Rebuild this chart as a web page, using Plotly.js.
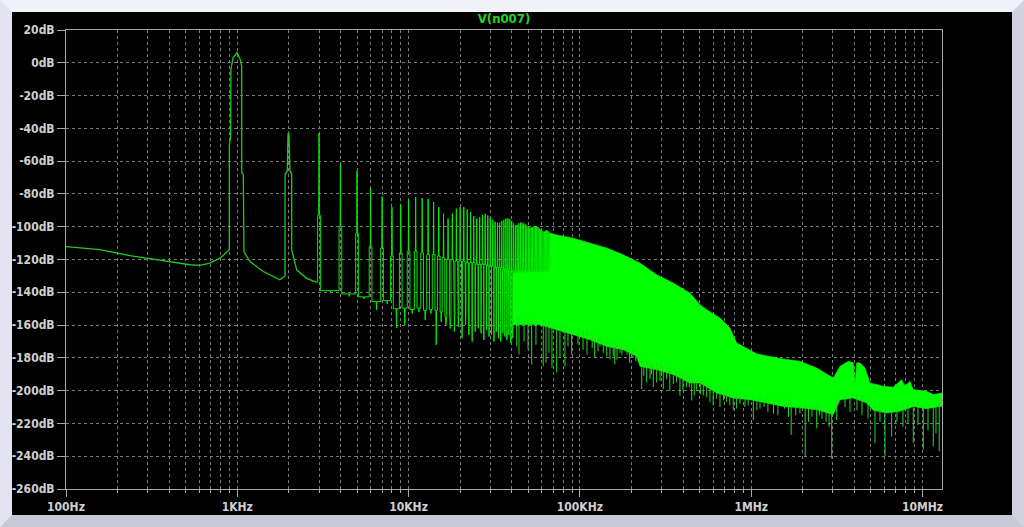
<!DOCTYPE html>
<html><head><meta charset="utf-8">
<script src="https://cdn.plot.ly/plotly-3.0.1.min.js"></script>
<style>
html,body{margin:0;padding:0;background:#c8c8d6;}
#wrap{width:1000px;height:503px;border-style:solid;border-width:12px;
border-top-color:#f1f1fa;border-left-color:#e4e4f0;border-right-color:#d2d2de;border-bottom-color:#c8c8d6;background:#000;}
#chart{width:1000px;height:503px;}
</style></head>
<body><div id="wrap"><div id="chart"></div></div>
<script>
// ---- data ----
const fundHz = 1000;
// low-frequency curve including the 1 kHz and 2 kHz peaks
const lfF  = [100,158,236,309,405,530,606,693,793,886,898,899,915,918,945,997,1040,1061,1062,1084,1086,
              1094,1186,1419,1774,1880,1899,1900,1958,1975,1990,2005,2031,2078,2079,2222,2541,2908];
const lfDb = [-112.2,-114,-117.7,-119.6,-121.4,-123.2,-123.6,-122.2,-119.2,-114,-114,-50,-45,-4,3,6.2,2,-2,-67,-68,-115,
              -115.3,-121.2,-127.3,-132.4,-130.3,-130,-68,-66,-45,-42,-45,-66,-68,-114,-126.3,-131.5,-134];
// harmonics 3..66 of 1 kHz
const harmN = [3,4,5,6,7,8,9,10,11,12,13,14,15,16,17,18,19,20,21,22,23,24,25,26,27,28,29,30,31,32,33,34,
               35,36,37,38,39,40,41,42,43,44,45,46,47,48,49,50,51,52,53,54,55,56,57,58,59,60,61,62,63,64,65,66];
const harmPeak = [-43,-62,-66,-76.5,-81.5,-88,-86.5,-83.5,-82,-82.5,
                  -83,-85,-88,-92,-95,-92,-89,-88,-88,-89.5,
                  -91,-93.5,-95,-94,-92.7,-92.3,-93.2,-94.4,-95.8,-97,
                  -97.6,-97.5,-96.5,-96,-95,-95,-95.5,-96.5,-98,-99,
                  -99,-98,-97.5,-97.6,-98,-98.5,-99.3,-100,-100.5,-100.5,
                  -100.2,-99.8,-99.6,-99.8,-100.3,-101,-101.8,-102.5,-103,-103,
                  -102.5,-102.2,-102.5,-103];
const harmShoulder = [-93,-100,-104,-112,-113,-118,-116,-115,-115,-116,
                      -117,-117,-118,-119,-120,-120,-121,-121,-121,-122,
                      -122,-122,-123,-123,-123,-123,-124,-124,-124,-125,
                      -125,-125,-125,-126,-126,-126,-126,-127,-127,-127,
                      -127,-127,-127,-127,-127,-127,-127,-127,-127,-127,
                      -127,-127,-127,-127,-127,-127,-127,-127,-127,-127,
                      -127,-127,-127,-127];
const harmFloor = [-139,-141,-142.8,-145.6,-145,-150,-149.6,-150.5,-149.6,-151,
                   -150.5,-151,-152,-154.7,-155,-154,-155,-155,-154,-156,
                   -156,-157,-156,-157,-158,-157,-158,-158,-158,-159,
                   -158,-159,-159,-160,-159,-160,-160,-160,-140,-140,
                   -140,-140,-140,-140,-140,-140,-140,-140,-140,-140,
                   -140,-140,-140,-140,-140,-140,-140,-140,-140,-140,
                   -140,-140,-140,-140];
const harmDip = [-140,-142.5,-144,-150.6,-147,-161.6,-159.8,-153,-152,-157,
                 -153,-172,-158,-160,-162,-164,-161,-168,-160,-166,
                 -170,-164,-162,-165,-169,-163,-167,-166,-170,-164,
                 -168,-170,-165,-167,-169,-166,-171,-168,-140,-140,
                 -140,-140,-140,-140,-140,-140,-140,-140,-140,-140,
                 -140,-140,-140,-140,-140,-140,-140,-140,-140,-140,
                 -140,-140,-140,-140];
// dense band: upper and lower edges
const topF  = [40.7e3,43.5e3,58.5e3,66.0e3,66.9e3,73.2e3,91.5e3,114.5e3,143.4e3,179.2e3,
               224.3e3,280.7e3,351.1e3,439.2e3,502.5e3,549.9e3,657.5e3,752e3,823e3,899e3,
               1.076e6,1.126e6,1.539e6,1.926e6,2.412e6,3.015e6,3.299e6,3.688e6,3.945e6,4.036e6,
               4.13e6,4.316e6,4.617e6,4.937e6,5.903e6,6.753e6,7.559e6,7.902e6,8.453e6,8.838e6,
               10.58e6,11.56e6,12.65e6,13.0e6];
const topDb = [-128.3,-128,-127.8,-127.5,-103.9,-105,-107,-110,-113,-117.1,
               -122.2,-129.3,-134.4,-140.5,-147.6,-150.6,-155.7,-161.8,-170.9,-173,
               -177.5,-178,-180.7,-182.1,-186.2,-192.3,-185.2,-182.1,-183,-196,
               -183,-183.1,-186,-195.3,-197.3,-197.9,-193.3,-197.3,-194.3,-199.4,
               -200.4,-202.4,-201.4,-201.5];
const botF  = [40.7e3,58.5e3,73.2e3,91.5e3,114.5e3,143.4e3,179.2e3,214.6e3,224.3e3,280.7e3,
               351.1e3,439.2e3,502.5e3,629e3,786e3,984e3,1.231e6,1.539e6,1.926e6,2.412e6,
               3.015e6,3.299e6,3.945e6,4.723e6,5.161e6,6.180e6,7.389e6,8.838e6,10.58e6,12.65e6,13.0e6];
const botDb = [-159.8,-159.8,-162.8,-165.9,-168.9,-173,-175,-179,-185.2,-187.2,
               -190.2,-195.3,-195.3,-201.4,-204.5,-205.5,-207.5,-209.6,-210.5,-211.6,
               -214.6,-205.5,-204.5,-207.5,-212,-213.6,-212.6,-209.6,-211,-209.6,-209.6];
// downward spikes below the band
const dipF = [42.8e3,44.1e3,47.2e3,49.8e3,52.3e3,55.4e3,61.1e3,63.4e3,66e3,68.7e3,
              73.2e3,76.5e3,81.8e3,85.2e3,89.5e3,97.5e3,104.3e3,127.6e3,131e3,143.4e3,
              149.8e3,156.7e3,164.7e3,171.5e3,188.4e3,204.2e3,229.5e3,245.5e3,256.7e3,268.4e3,
              280.7e3,293.5e3,306.8e3,321.2e3,351.1e3,383.6e3,420.1e3,449.5e3,480.6e3,525.3e3,
              574.6e3,629e3,657.5e3,719.5e3,786e3,860.4e3,919.9e3,1.029e6,1.126e6,1.252e6,
              1.432e6,1.567e6,1.712e6,1.926e6,2.068e6,2.264e6,2.412e6,2.591e6,2.734e6,2.951e6,
              3.157e6,3.529e6,3.774e6,4.147e6,4.435e6,4.808e6,5.28e6,5.648e6,6.04e6,6.61e6,
              7.1e6,7.69e6,8.23e6,8.838e6,9.41e6,10.11e6,10.77e6,11.56e6,11.99e6,12.53e6,
              110e3,118e3,122e3,137e3,160e3,176e3,195e3,212e3,236e3,262e3,
              300e3,335e3,366e3,400e3,435e3,465e3,505e3,550e3,600e3,690e3,
              750e3,820e3,960e3,1.08e6,1.19e6,1.35e6,1.65e6,1.82e6,2.16e6,2.5e6,2.85e6];
const dipTop = [-155,-155,-156,-156,-156,-157,-157,-157,-158,-158,
                -159,-159,-160,-160,-161,-162,-163,-167,-167,-169,
                -169,-170,-171,-171,-173,-174,-181,-182,-182,-183,
                -183,-184,-185,-185,-186,-187,-189,-190,-191,-193,
                -195,-197,-197,-199,-200,-201,-201,-202,-203,-204,
                -205,-205,-206,-207,-207,-208,-208,-209,-210,-211,
                -205,-202,-202,-202,-203,-205,-208,-209,-210,-210,
                -209,-209,-208,-207,-207,-208,-208,-208,-207,-207,
                -164,-166,-167,-169,-171,-172,-174,-176,-182,-183,
                -185,-186,-188,-189,-191,-192,-194,-196,-198,-200,
                -201,-202,-203,-204,-205,-206,-207,-208,-209,-209,-211];
const dipBot = [-173,-178,-170,-175,-184,-172,-185,-183,-177,-186,
                -189,-180,-185,-173,-178,-172,-175,-176,-173,-179,
                -181,-179,-181,-177,-178,-180,-199,-195,-193,-198,
                -195,-194,-199,-193,-196,-203,-198,-206,-200,-203,
                -207,-205,-210,-207,-212,-208,-210,-218,-211,-213,
                -215,-211,-227,-214,-240,-216,-223,-217,-219,-241.6,
                -218,-210,-213,-212,-215,-217,-232,-219,-240,-228,
                -219,-222,-220,-232,-221,-236,-224,-234,-226,-237,
                -178,-174,-180,-177,-184,-178,-183,-182,-191,-190,
                -191,-200,-195,-200,-198,-203,-202,-204,-209,-206,
                -209,-211,-209,-212,-210,-214,-216,-215,-219,-215,-222];
// axis ticks
const xTickVals = [1e2,1e3,1e4,1e5,1e6,1e7];
const xTickText = ['100Hz','1KHz','10KHz','100KHz','1MHz','10MHz'];
const xMinorVals = [2e2,3e2,4e2,5e2,6e2,7e2,8e2,9e2,2e3,3e3,4e3,5e3,6e3,7e3,8e3,9e3,
                    2e4,3e4,4e4,5e4,6e4,7e4,8e4,9e4,2e5,3e5,4e5,5e5,6e5,7e5,8e5,9e5,
                    2e6,3e6,4e6,5e6,6e6,7e6,8e6,9e6];
const yTickVals = [20,0,-20,-40,-60,-80,-100,-120,-140,-160,-180,-200,-220,-240,-260];
const yTickText = ['20dB','0dB','-20dB','-40dB','-60dB','-80dB','-100dB','-120dB','-140dB','-160dB','-180dB','-200dB','-220dB','-240dB','-260dB'];

// ---- build traces ----
const W = 0.018, w = 0.004, dw = 0.004;
const hx = [], hy = [];
let prevFloor = lfDb[lfDb.length-1];
harmN.forEach((n,i)=>{
  const f = n*fundHz;
  hx.push(f*(1-W), f*(1-W), f*(1-w), f, f*(1+w), f*(1+W), f*(1+W));
  hy.push(prevFloor, harmShoulder[i], harmShoulder[i], harmPeak[i], harmShoulder[i], harmShoulder[i], harmFloor[i]);
  const m = f + fundHz/2;
  hx.push(m*(1-dw), m, m*(1+dw));
  hy.push(harmFloor[i], harmDip[i], harmFloor[i]);
  prevFloor = harmFloor[i];
});
const bandX = topF.concat(botF.slice().reverse());
const bandY = topDb.concat(botDb.slice().reverse());
const dx = [], dy = [];
dipF.forEach((f,i)=>{ dx.push(f,f,null); dy.push(dipTop[i],dipBot[i],null); });

const green = '#00ff00';
const traces = [
  {x:hx, y:hy, mode:'lines', line:{color:'#00ee00', width:1}, hoverinfo:'skip'},
  {x:bandX, y:bandY, mode:'lines', fill:'toself', fillcolor:green, line:{color:green, width:0.6}, hoverinfo:'skip'},
  {x:dx, y:dy, mode:'lines', line:{color:'#1edc1e', width:1}, hoverinfo:'skip'},
  {x:lfF, y:lfDb, mode:'lines', line:{color:'#22c822', width:1.3}, hoverinfo:'skip'}
];
const axCol = '#a8a8a8', gridCol = '#7c7c7c';
const tickFont = {family:'DejaVu Sans Condensed, DejaVu Sans, sans-serif', size:12, color:'#d0d0d0', weight:'bold'};
const layout = {
  width:1000, height:503,
  margin:{l:54, r:70, t:18, b:26},
  paper_bgcolor:'#000', plot_bgcolor:'#000',
  showlegend:false,
  title:{text:'V(n007)', x:0.5, xref:'paper', y:1, yref:'container', yanchor:'top', pad:{t:2},
         font:{family:'DejaVu Sans Condensed, DejaVu Sans, sans-serif', size:13, color:'#22d822', weight:'bold'}},
  xaxis:{type:'log', range:[2, Math.log10(13.0e6)], tickmode:'array', tickvals:xTickVals, ticktext:xTickText,
         ticks:'outside', ticklen:7, tickcolor:axCol, showline:true, linecolor:axCol, mirror:true,
         showgrid:true, gridcolor:gridCol, griddash:'3px,3px', gridwidth:1, zeroline:false, tickfont:tickFont,
         minor:{tickmode:'array', tickvals:xMinorVals, ticks:'outside', ticklen:3, tickcolor:axCol,
                showgrid:true, gridcolor:gridCol, griddash:'3px,3px', gridwidth:1}},
  yaxis:{range:[-260,20], tickmode:'array', tickvals:yTickVals, ticktext:yTickText,
         ticks:'outside', ticklen:8, tickcolor:axCol, showline:true, linecolor:axCol, mirror:true,
         showgrid:true, gridcolor:gridCol, griddash:'3px,3px', gridwidth:1, zeroline:false, tickfont:tickFont}
};
Plotly.newPlot('chart', traces, layout, {staticPlot:true, displayModeBar:false});
</script></body></html>
